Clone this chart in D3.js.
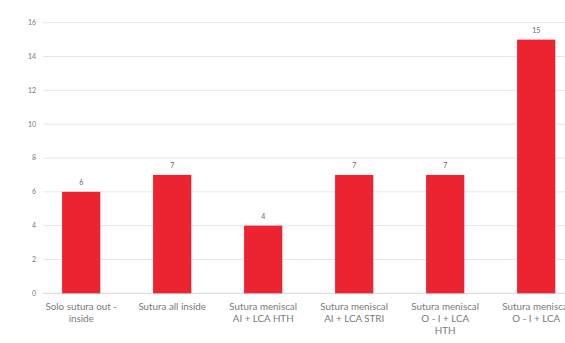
<!DOCTYPE html>
<html><head><meta charset="utf-8">
<script src="https://cdn.jsdelivr.net/npm/d3@7"></script>
<style>body{margin:0;background:#fff;} svg{display:block;}</style>
</head><body>
<svg id="c" width="565" height="343"></svg>
<script>
const categories = [
  ["Solo sutura out -", "inside"],
  ["Sutura all inside"],
  ["Sutura meniscal", "AI + LCA HTH"],
  ["Sutura meniscal", "AI + LCA STRI"],
  ["Sutura meniscal", "O - I + LCA", "HTH"],
  ["Sutura meniscal", "O - I + LCA"]
];
const values = [6, 7, 4, 7, 7, 15];
const yTicks = [0, 2, 4, 6, 8, 10, 12, 14, 16];

const svg = d3.select("#c");
const font = "Lato, 'Open Sans', sans-serif";
const x = d3.scaleBand().domain(d3.range(categories.length)).range([35.7, 35.7 + 91 * 6]).paddingInner(0.58).paddingOuter(0.29);
const y = d3.scaleLinear().domain([0, 16]).range([293.3, 22.7]);

// gridlines
svg.append("g").selectAll("line").data(yTicks).join("line")
  .attr("x1", 43).attr("x2", 565)
  .attr("y1", d => y(d)).attr("y2", d => y(d))
  .attr("stroke", d => d === 0 ? "#d4d4d4" : "#e6e6e6").attr("stroke-width", 1);

// y tick labels
svg.append("g").selectAll("text").data(yTicks).join("text")
  .attr("x", 36).attr("y", d => y(d)).attr("dy", "0.35em")
  .attr("text-anchor", "end").attr("font-family", font).attr("font-size", 7)
  .attr("fill", "#777").text(d => d);

// bars
svg.append("g").selectAll("rect").data(values).join("rect")
  .attr("x", (d, i) => x(i)).attr("width", x.bandwidth())
  .attr("y", d => y(d)).attr("height", d => y(0) - y(d))
  .attr("fill", "#ec2330");

// value labels
svg.append("g").selectAll("text").data(values).join("text")
  .attr("x", (d, i) => x(i) + x.bandwidth() / 2).attr("y", d => y(d) - 7)
  .attr("text-anchor", "middle").attr("font-family", font).attr("font-size", 7)
  .attr("fill", "#666").text(d => d);

// category labels
const cg = svg.append("g").selectAll("text").data(categories).join("text")
  .attr("text-anchor", "middle").attr("font-family", font).attr("font-size", 9.8)
  .attr("fill", "#7a7a7a");
cg.each(function(lines, i) {
  d3.select(this).selectAll("tspan").data(lines).join("tspan")
    .attr("x", x(i) + x.bandwidth() / 2)
    .attr("y", (l, j) => 309.5 + j * 12)
    .text(l => l);
});
</script>
</body></html>
